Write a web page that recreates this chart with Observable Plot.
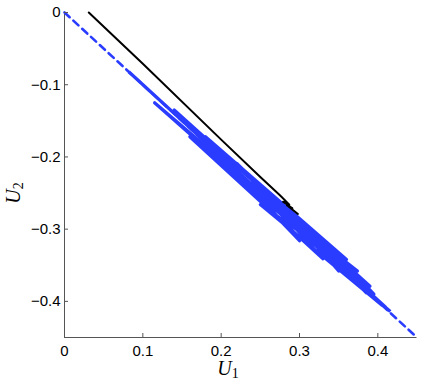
<!DOCTYPE html>
<html><head><meta charset="utf-8">
<script src="https://cdn.jsdelivr.net/npm/d3@7"></script>
<script src="https://cdn.jsdelivr.net/npm/@observablehq/plot@0.6"></script>
<style>
body{margin:0;background:#fff}
#chart{width:436px;height:390px}
#chart svg g[aria-label*="tick label"] text{font-size:15px !important;font-family:'Liberation Sans', Arial, sans-serif !important}
</style>
</head><body><div id="chart"></div>
<script>
const xTicks = [0, 0.1, 0.2, 0.3, 0.4];
const yTicks = [0, -0.1, -0.2, -0.3, -0.4];
const xDomain = [0, 0.45];
const yDomain = [-0.45, 0];

// dashed reference diagonal
const refU1 = [0, 0.45];
const refU2 = [0, -0.45];

// black trajectory
const blackU1 = [0.031, 0.100, 0.200, 0.2503, 0.275, 0.287, 0.279, 0.291, 0.284, 0.298];
const blackU2 = [0.000, -0.071, -0.176, -0.228, -0.253, -0.266, -0.262, -0.271, -0.267, -0.279];

// blue trajectory (scribble along the diagonal)
const blueU1 = [0.082, 0.410, 0.115, 0.390, 0.140, 0.300, 0.180, 0.360, 0.160, 0.330, 0.220, 0.405, 0.250, 0.374, 0.200, 0.300, 0.385, 0.270, 0.350, 0.330, 0.395, 0.240, 0.340, 0.416];
const blueU2 = [-0.082, -0.408, -0.125, -0.379, -0.135, -0.316, -0.172, -0.342, -0.172, -0.341, -0.209, -0.405, -0.266, -0.358, -0.210, -0.286, -0.388, -0.258, -0.358, -0.316, -0.390, -0.236, -0.344, -0.414];

const toRows = (xs, ys) => xs.map((x, i) => ({x, y: ys[i]}));
const ref = toRows(refU1, refU2);
const black = toRows(blackU1, blackU2);
const blue = toRows(blueU1, blueU2);

const BLUE = "#2a3cff";
const fmt = d => d === 0 ? "0" : d3.format(".1f")(d);

const chart = Plot.plot({
  width: 436, height: 390,
  marginLeft: 64, marginRight: 19.5, marginTop: 12, marginBottom: 53,
  x: {domain: xDomain, label: null},
  y: {domain: yDomain, label: null},
  style: {fontFamily: "'Liberation Sans', Arial, sans-serif", fontSize: "15px", background: "#fff", color: "#000"},
  marks: [
    Plot.ruleX([xDomain[0]], {stroke: "#555", strokeWidth: 1}),
    Plot.ruleY([yDomain[0]], {stroke: "#555", strokeWidth: 1}),
    Plot.line(ref, {x: "x", y: "y", stroke: BLUE, strokeWidth: 2.6, strokeDasharray: "7,5"}),
    Plot.line(blue, {x: "x", y: "y", stroke: BLUE, strokeWidth: 3.2, strokeLinejoin: "round", strokeLinecap: "butt"}),
    Plot.line(black, {x: "x", y: "y", stroke: "#000", strokeWidth: 2, strokeLinejoin: "round"}),
    Plot.axisX({ticks: xTicks, tickFormat: fmt, tickSize: -4, tickPadding: 12, stroke: "#555", fill: "#000", fontSize: 15, label: null}),
    Plot.axisY({ticks: yTicks, tickFormat: fmt, tickSize: -4, tickPadding: 8, stroke: "#555", fill: "#000", fontSize: 15, label: null})
  ]
});
document.getElementById("chart").appendChild(chart);

const svg = d3.select(chart);
const serif = "'Liberation Serif', 'Times New Roman', serif";
const t1 = svg.append("text").attr("x", 228).attr("y", 375)
  .attr("font-family", serif).attr("font-size", 20).attr("fill", "#000");
t1.append("tspan").attr("font-style", "italic").text("U");
t1.append("tspan").attr("dy", 3).attr("font-size", 14).text("1");

const t2 = svg.append("text").attr("transform", "translate(20,193) rotate(-90)")
  .attr("font-family", serif).attr("font-size", 20).attr("fill", "#000");
t2.append("tspan").attr("font-style", "italic").text("U");
t2.append("tspan").attr("dy", 3).attr("font-size", 14).text("2");
</script>
</body></html>
